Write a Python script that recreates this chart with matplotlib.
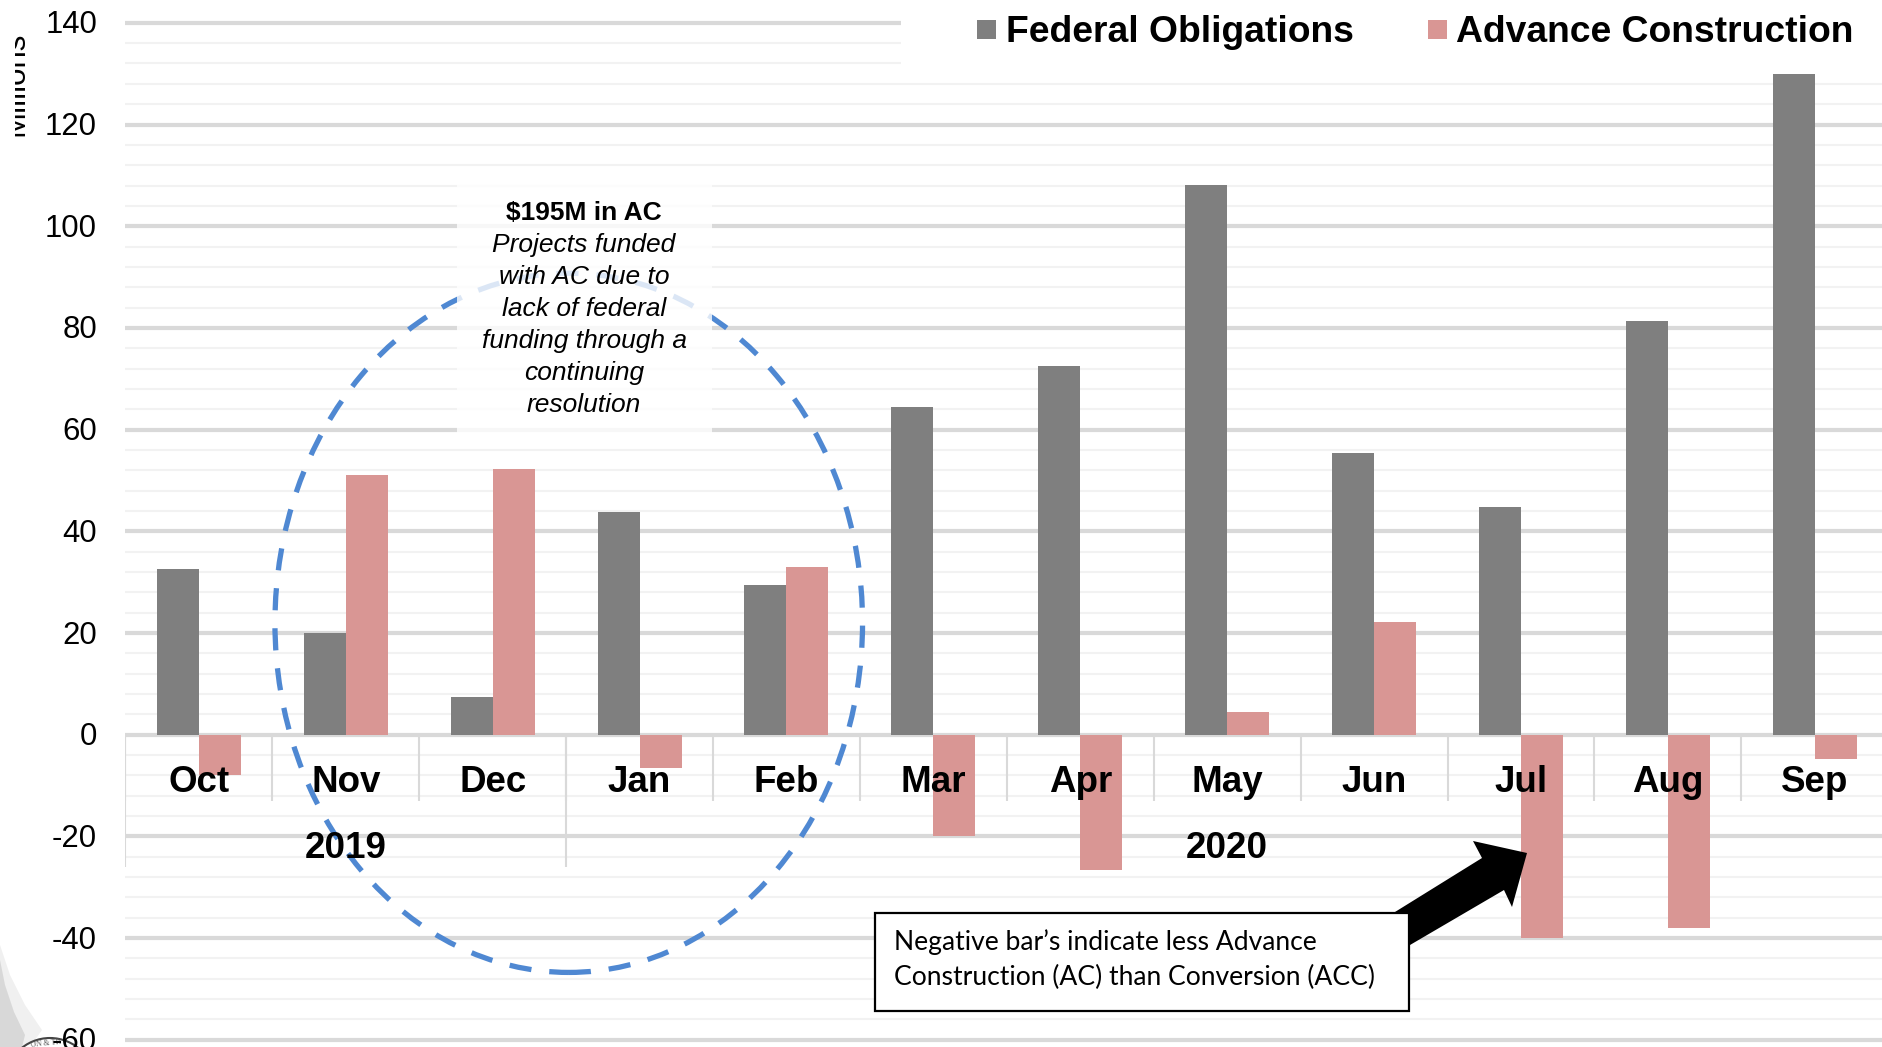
import matplotlib
matplotlib.use('Agg')
import matplotlib.pyplot as plt
import numpy as np
from matplotlib.patches import Ellipse, Polygon, Rectangle
from matplotlib.transforms import Affine2D, Bbox

months = ['Oct', 'Nov', 'Dec', 'Jan', 'Feb', 'Mar', 'Apr', 'May', 'Jun', 'Jul', 'Aug', 'Sep']
federal = [32.5, 20, 7.5, 43.7, 29.5, 64.5, 72.5, 108.2, 55.3, 44.7, 81.3, 130]
advance = [-8, 51, 52.2, -6.6, 33, -20, -26.7, 4.5, 22.2, -40, -38, -4.8]
years = ['2019', '2020']
year_edges = [0, 3, 12]
y_ticks = [140, 120, 100, 80, 60, 40, 20, 0, -20, -40, -60]

W, H = 1882, 1047
GREY = '#7f7f7f'
PINK = '#d99694'
BLUE = '#4f88d2'
GRID = '#d9d9d9'
plt.rcParams['font.family'] = ['Liberation Sans', 'DejaVu Sans']

fig = plt.figure(figsize=(W / 100, H / 100), dpi=100)
# axes placed by pixels: 0 at y=734.7, about 5.085 px per million, 146.9 px per month
left, zero, ppm, ppc = 125.4, 734.7, 5.085, 146.9
ax = fig.add_axes([left / W, 0, (W - left) / W, 1])
ax.set_xlim(0, (W - left) / ppc)
ax.set_ylim((zero - H) / ppm, zero / ppm)
ax.axis('off')

# pixel coords with origin top left, for the annotations
px = Affine2D().scale(1, -1).translate(0, H)

# grid
for v in np.arange(-60, 141, 4):
    major = v % 20 == 0
    ax.axhline(v, color=GRID if major else '#f2f2f2', lw=3.0 if major else 1.5, zorder=1)

x = np.arange(len(months)) + 0.5
bw = 0.286
ax.bar(x - bw / 2, federal, bw, color=GREY, zorder=3, label='Federal Obligations')
ax.bar(x + bw / 2, advance, bw, color=PINK, zorder=3, label='Advance Construction')

# category axis with the two levels of separators
ax.axhline(0, color=GRID, lw=2, zorder=2)
ax.vlines(np.arange(len(months)), -13, 0, color=GRID, lw=1.5, zorder=2)
ax.vlines(year_edges[:2], -26, 0, color=GRID, lw=1.5, zorder=2)
for xi, m in zip(x, months):
    ax.text(xi, -9.4, m, ha='center', va='center', fontsize=26.5, fontweight='bold', zorder=6)
for yr, a, b in zip(years, year_edges[:-1], year_edges[1:]):
    ax.text((a + b) / 2, -22.4, yr, ha='center', va='center', fontsize=26.5, fontweight='bold', zorder=6)

for v in y_ticks:
    fig.text(97, H - (zero - v * ppm) + 1, str(v), transform=None, ha='right', va='center_baseline',
             fontsize=22.4, zorder=6)

t = fig.text(30, H - 84, 'Millions', transform=None, rotation=90, ha='right', va='center', fontsize=22.5)
t.set_clip_box(Bbox([[15, 0], [W, H]]))
t.set_clip_on(True)

# dashed circle around the continuing resolution months
ax.add_patch(Ellipse((3.018, 22), 4.0, 137.5, fill=False, ec=BLUE, lw=3.8,
                     ls=(0, (4.2, 3.4)), zorder=4, clip_on=False))

# white panel behind the note, grid and circle still show through
ax.add_patch(Rectangle((457, 182), 255, 252, transform=px, fc='white', ec='none', alpha=0.8, zorder=5))
ax.text(584, 213, '$195M in AC', transform=px, ha='center', va='center', fontsize=19, fontweight='bold', zorder=6)
note = ['Projects funded', 'with AC due to', 'lack of federal', 'funding through a', 'continuing', 'resolution']
for i, line in enumerate(note):
    ax.text(584, 245 + i * 32, line, transform=px, ha='center', va='center', fontsize=19, style='italic', zorder=6)

# legend
ax.add_patch(Rectangle((901, 0), W - 901, 72, transform=px, fc='white', ec='none', zorder=2))
for sx, tx, col, label in [(977, 1006, GREY, 'Federal Obligations'), (1428, 1456, PINK, 'Advance Construction')]:
    ax.add_patch(Rectangle((sx, 20), 19, 19, transform=px, fc=col, ec='none', zorder=6))
    ax.text(tx, 29, label, transform=px, ha='left', va='center_baseline', fontsize=26.8, fontweight='bold', zorder=6)

# arrow and box
ax.add_patch(Polygon([(1395, 912), (1482, 858), (1473, 841), (1527, 853), (1512, 907), (1504, 890), (1410, 945)],
                     transform=px, fc='black', ec='none', zorder=6))
ax.add_patch(Rectangle((875, 913), 534, 98, transform=px, fc='white', ec='black', lw=1.6, zorder=7))
ax.text(894, 942, 'Negative bar’s indicate less Advance', transform=px, family=['Lato', 'DejaVu Sans'],
        ha='left', va='center', fontsize=19.1, zorder=8)
ax.text(894, 977, 'Construction (AC) than Conversion (ACC)', transform=px, family=['Lato', 'DejaVu Sans'],
        ha='left', va='center', fontsize=19.1, zorder=8)

# seal in the corner, mostly cut off by the page
ax.add_patch(Polygon([(0, 945), (10, 975), (25, 1005), (42, 1030), (30, 1047), (0, 1047)], transform=px,
                     fc='#f0f0f0', ec='none', zorder=2, clip_on=False))
ax.add_patch(Polygon([(0, 960), (5, 985), (14, 1012), (25, 1035), (22, 1047), (0, 1047)], transform=px,
                     fc='#d8d8d8', ec='none', zorder=2, clip_on=False))
ax.add_patch(Ellipse((50, 1083), 90, 90, transform=px, fc='white', ec='#444444', lw=1.5, zorder=2, clip_on=False))
ax.text(46, 1043, 'ON & TR', transform=px, ha='center', va='center', fontsize=5.5, family='Liberation Serif',
        color='#555555', rotation=6, zorder=2, clip_on=False)

fig.savefig('out.png', dpi=100)
